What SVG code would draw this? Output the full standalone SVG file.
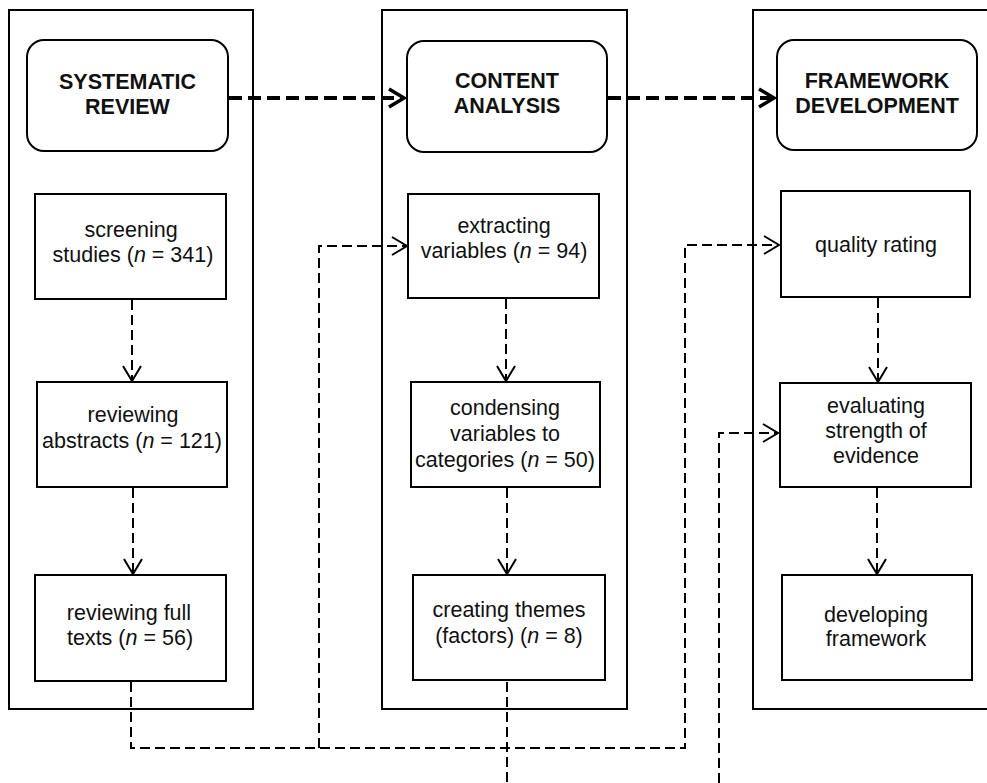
<svg xmlns="http://www.w3.org/2000/svg" width="987" height="783" viewBox="0 0 987 783">
<style>
.frame{fill:none;stroke:#000;stroke-width:2}
.box{fill:#fff;stroke:#000;stroke-width:2}
.head{fill:#fff;stroke:#000;stroke-width:2}
.t{font-family:"Liberation Sans",Arial,sans-serif;font-size:21.5px;fill:#111;text-anchor:middle}
.h{font-family:"Liberation Sans",Arial,sans-serif;font-size:21.5px;font-weight:bold;fill:#111;text-anchor:middle}
.thick{fill:none;stroke:#000;stroke-width:4;stroke-dasharray:13 6}
.thin{fill:none;stroke:#000;stroke-width:2;stroke-dasharray:10 5}
</style>
<defs>
<marker id="ah" markerUnits="userSpaceOnUse" markerWidth="24" markerHeight="24" viewBox="-18 -12 20 24" refX="0" refY="0" orient="auto">
<path d="M-15,-9 L0,0 L-15,9" fill="none" stroke="#000" stroke-width="2" stroke-dasharray="none"/>
</marker>
<marker id="ahT" markerUnits="userSpaceOnUse" markerWidth="28" markerHeight="28" viewBox="-20 -14 24 28" refX="0" refY="0" orient="auto">
<path d="M-15,-9 L0,0 L-15,9" fill="none" stroke="#000" stroke-width="3.5" stroke-dasharray="none"/>
</marker>
</defs>

<g id="frames">
<rect class="frame" x="9" y="10" width="244" height="699"/>
<rect class="frame" x="382" y="10" width="245" height="699"/>
<rect class="frame" x="753" y="10" width="260" height="699"/>
</g>

<g id="connectors">
<line class="thick" x1="229" y1="98" x2="404" y2="98" marker-end="url(#ahT)"/>
<line class="thick" x1="608" y1="98" x2="774" y2="98" marker-end="url(#ahT)"/>
<line class="thin" x1="132" y1="300" x2="132" y2="381" marker-end="url(#ah)"/>
<line class="thin" x1="133" y1="488" x2="133" y2="574" marker-end="url(#ah)"/>
<line class="thin" x1="506" y1="299" x2="506" y2="381" marker-end="url(#ah)"/>
<line class="thin" x1="507" y1="488" x2="507" y2="574" marker-end="url(#ah)"/>
<line class="thin" x1="878" y1="298" x2="878" y2="382" marker-end="url(#ah)"/>
<line class="thin" x1="877" y1="488" x2="877" y2="574" marker-end="url(#ah)"/>
<polyline class="thin" points="131,682 131,748 685,748 685,245 779,245" marker-end="url(#ah)"/>
<polyline class="thin" points="319,748 319,246 407,246" marker-end="url(#ah)"/>
<line class="thin" x1="507" y1="682" x2="507" y2="783"/>
<polyline class="thin" points="719,783 719,433 778,433" marker-end="url(#ah)"/>
</g>

<g id="systematic-review">
<rect class="head" x="27" y="40" width="201" height="111" rx="17"/>
<text class="h" x="127.5" y="89">SYSTEMATIC</text>
<text class="h" x="127.5" y="114">REVIEW</text>
</g>
<g id="content-analysis">
<rect class="head" x="407" y="41" width="200" height="111" rx="17"/>
<text class="h" x="507" y="88">CONTENT</text>
<text class="h" x="507" y="113">ANALYSIS</text>
</g>
<g id="framework-development">
<rect class="head" x="777" y="40" width="200" height="110" rx="17"/>
<text class="h" x="877" y="88">FRAMEWORK</text>
<text class="h" x="877" y="113">DEVELOPMENT</text>
</g>

<g id="screening">
<rect class="box" x="35" y="194" width="191" height="105"/>
<text class="t" x="131" y="237">screening</text>
<text class="t" x="133" y="262">studies  (<tspan font-style="italic">n</tspan> = 341)</text>
</g>
<g id="abstracts">
<rect class="box" x="37" y="382" width="190" height="105"/>
<text class="t" x="133" y="422">reviewing</text>
<text class="t" x="132" y="448">abstracts  (<tspan font-style="italic">n</tspan> = 121)</text>
</g>
<g id="fulltexts">
<rect class="box" x="35" y="575" width="191" height="106"/>
<text class="t" x="129" y="620">reviewing full</text>
<text class="t" x="130" y="645">texts  (<tspan font-style="italic">n</tspan> = 56)</text>
</g>
<g id="extracting">
<rect class="box" x="408" y="194" width="191" height="104"/>
<text class="t" x="504" y="233">extracting</text>
<text class="t" x="504" y="258">variables  (<tspan font-style="italic">n</tspan> = 94)</text>
</g>
<g id="condensing">
<rect class="box" x="411" y="382" width="189" height="105"/>
<text class="t" x="505" y="415">condensing</text>
<text class="t" x="505" y="441">variables to</text>
<text class="t" x="505" y="467">categories (<tspan font-style="italic">n</tspan> = 50)</text>
</g>
<g id="themes">
<rect class="box" x="413" y="575" width="192" height="105"/>
<text class="t" x="509" y="617">creating themes</text>
<text class="t" x="509" y="643">(factors) (<tspan font-style="italic">n</tspan> = 8)</text>
</g>
<g id="quality">
<rect class="box" x="781" y="191" width="189" height="106"/>
<text class="t" x="876" y="252">quality  rating</text>
</g>
<g id="evaluating">
<rect class="box" x="780" y="383" width="191" height="104"/>
<text class="t" x="876" y="413">evaluating</text>
<text class="t" x="876" y="438">strength  of</text>
<text class="t" x="876" y="463">evidence</text>
</g>
<g id="developing">
<rect class="box" x="782" y="575" width="190" height="105"/>
<text class="t" x="876" y="622">developing</text>
<text class="t" x="876" y="646">framework</text>
</g>
</svg>
